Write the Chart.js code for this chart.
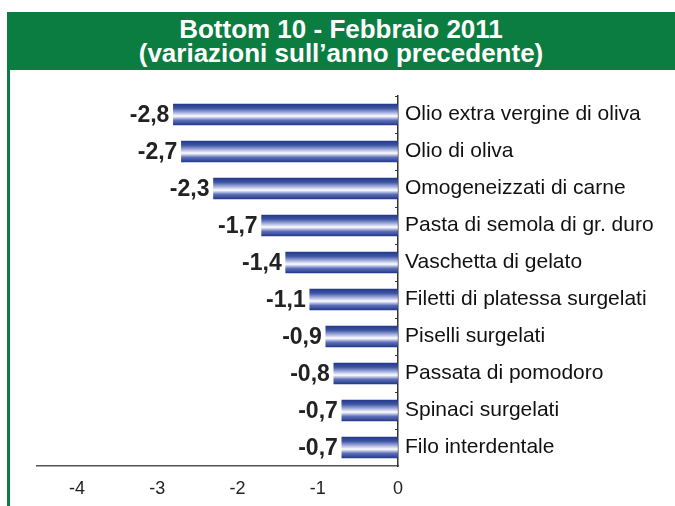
<!DOCTYPE html>
<html>
<head>
<meta charset="utf-8">
<script src="https://cdn.jsdelivr.net/npm/chart.js@4"></script>
<style>
  body { margin: 0; background: #fff; font-family: "Liberation Sans", Arial, sans-serif; }
  #wrap { position: relative; width: 675px; height: 506px; overflow: hidden; }
  #head {
    position: absolute; left: 7px; top: 12px; width: 668px; height: 58px;
    background: #0b7d40; color: #fff; text-align: center;
    font-weight: bold; font-size: 26px; line-height: 24px; padding-top: 5px; box-sizing: border-box;
  }
  #side { position: absolute; left: 7px; top: 70px; width: 3px; height: 436px; background: #0b7d40; }
  #chart { position: absolute; left: 10px; top: 70px; }
</style>
</head>
<body>
<div id="wrap">
  <div id="head">Bottom 10 - Febbraio 2011<br>(variazioni sull’anno precedente)</div>
  <div id="side"></div>
  <canvas id="chart" width="665" height="436"></canvas>
</div>
<script>
const categories = [
  "Olio extra vergine di oliva",
  "Olio di oliva",
  "Omogeneizzati di carne",
  "Pasta di semola di gr. duro",
  "Vaschetta di gelato",
  "Filetti di platessa surgelati",
  "Piselli surgelati",
  "Passata di pomodoro",
  "Spinaci surgelati",
  "Filo interdentale"
];
const values = [-2.8, -2.7, -2.3, -1.7, -1.4, -1.1, -0.9, -0.8, -0.7, -0.7];
const xTicks = [-4, -3, -2, -1, 0];

const fontFam = '"Liberation Sans", Arial, sans-serif';
const barH = 21;

// cylinder-like shading for each bar
function barFill(ctx) {
  if (ctx.type !== 'data') return '#2b4291';
  const chart = ctx.chart;
  const y = chart.scales.y;
  if (!y || y.top === undefined) return '#2b4291';
  const yc = y.getPixelForValue(ctx.dataIndex);
  const g = chart.ctx.createLinearGradient(0, yc - barH / 2, 0, yc + barH / 2);
  g.addColorStop(0, '#24398a');
  g.addColorStop(0.2, '#3d54a3');
  g.addColorStop(0.42, '#aab5e0');
  g.addColorStop(0.58, '#ffffff');
  g.addColorStop(0.78, '#5c6fb8');
  g.addColorStop(1, '#24398a');
  return g;
}

const valueLabels = {
  id: 'valueLabels',
  afterDatasetsDraw(chart) {
    const c = chart.ctx;
    const meta = chart.getDatasetMeta(0);
    c.save();
    c.font = 'bold 23px ' + fontFam;
    c.fillStyle = '#222';
    c.textAlign = 'right';
    c.textBaseline = 'middle';
    meta.data.forEach((el, i) => {
      c.fillText(values[i].toFixed(1).replace('.', ','), el.x - 4, el.y + 1);
    });
    c.restore();
  }
};

// short inward tick marks on the zero axis, at category boundaries
const innerTicks = {
  id: 'innerTicks',
  afterDraw(chart) {
    const y = chart.scales.y;
    const c = chart.ctx;
    const x0 = chart.scales.x.getPixelForValue(0);
    c.save();
    c.strokeStyle = '#333';
    c.lineWidth = 1;
    for (let i = 0; i < categories.length; i++) {
      const yy = Math.round(y.getPixelForValue(i - 0.5)) + 0.5;
      c.beginPath();
      c.moveTo(x0 - 3, yy);
      c.lineTo(x0, yy);
      c.stroke();
    }
    c.restore();
  }
};

new Chart(document.getElementById('chart'), {
  type: 'bar',
  data: {
    labels: categories,
    datasets: [{
      data: values,
      backgroundColor: barFill,
      borderWidth: 0,
      barThickness: barH
    }]
  },
  options: {
    indexAxis: 'y',
    responsive: false,
    animation: false,
    layout: { padding: { left: 27, top: 26, right: 0, bottom: 0 } },
    plugins: { legend: { display: false }, tooltip: { enabled: false }, title: { display: false } },
    scales: {
      x: {
        type: 'linear',
        min: -4.5,
        max: 0,
        position: 'bottom',
        grid: { drawOnChartArea: false, drawTicks: false },
        border: { display: true, color: '#555', width: 1.5 },
        ticks: { font: { family: fontFam, size: 18 }, color: '#222', padding: 12 },
        afterBuildTicks: s => { s.ticks = xTicks.map(v => ({ value: v })); },
        afterFit: s => { s.height = 40; }
      },
      y: {
        type: 'category',
        position: 'right',
        grid: { drawOnChartArea: false, drawTicks: false },
        border: { display: true, color: '#333', width: 1.5 },
        ticks: { font: { family: fontFam, size: 21 }, color: '#111', padding: 7, crossAlign: 'near' },
        afterFit: s => { s.width = 277; }
      }
    }
  },
  plugins: [valueLabels, innerTicks]
});
</script>
</body>
</html>
